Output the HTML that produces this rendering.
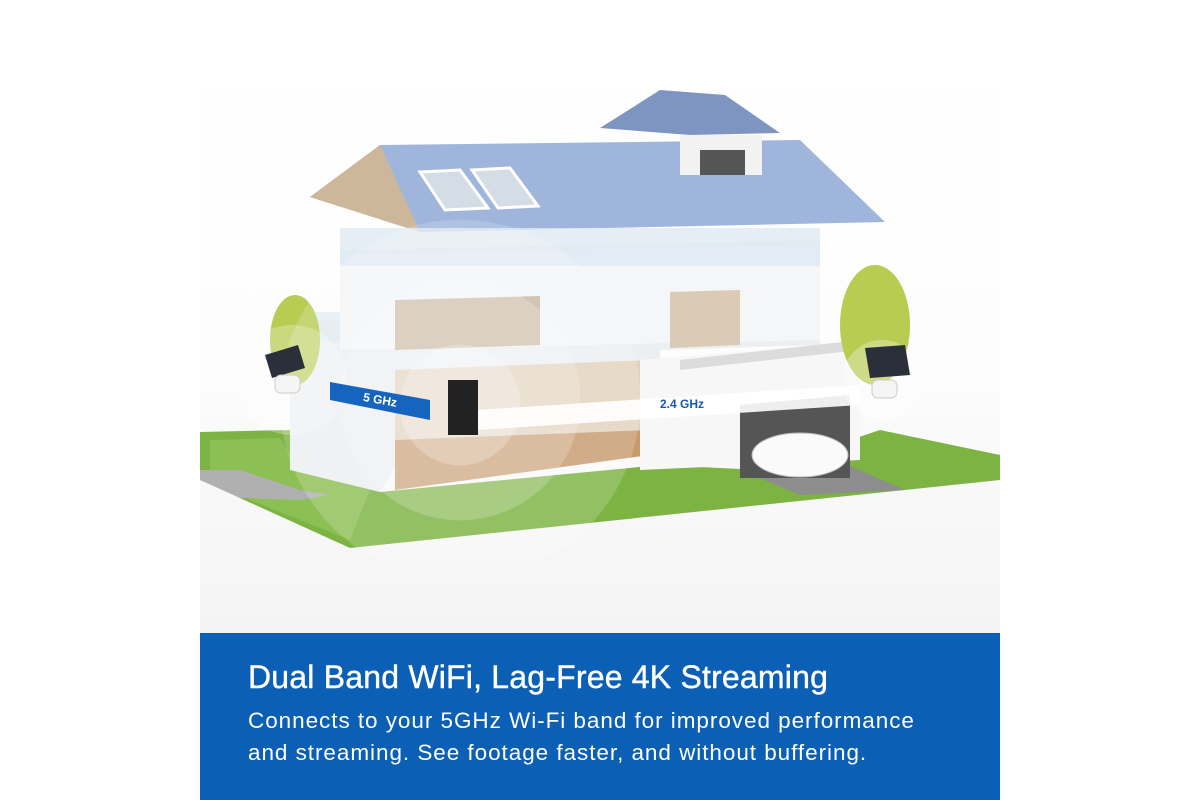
<!DOCTYPE html>
<html><head><style>
body{margin:0;width:1200px;height:800px;background:#fff;position:relative;overflow:hidden;font-family:"Liberation Sans",sans-serif}
.panel{position:absolute;left:200px;top:50px;width:800px;height:583px;background:linear-gradient(#fff 0%,#fdfdfd 50%,#f4f4f4 100%)}
.band{position:absolute;left:200px;top:633px;width:800px;height:167px;background:#0b5fb5;color:#fff}
.t{position:absolute;left:48px;top:26px;font-size:32px;font-weight:normal;letter-spacing:0.2px;-webkit-text-stroke:0.4px #fff}
.b{position:absolute;left:48px;top:72px;font-size:22.5px;letter-spacing:0.95px;line-height:32px}
svg{position:absolute;left:0;top:0}
</style></head><body>
<div class="panel"></div>
<svg width="1200" height="640">
<polygon points="200,432 290,430 300,470 380,492 660,465 760,470 880,430 1000,455 1000,480 350,548 240,498 200,478" fill="#7cb342"/>
<polygon points="210,440 280,438 300,470 370,490 350,540 250,500 210,470" fill="#9ccc65" opacity=".5"/>
<polygon points="200,470 240,470 300,490 330,495 300,500 240,498 200,480" fill="#b0b0b0"/>
<polygon points="740,470 850,466 905,490 800,495" fill="#8d8d8d"/>
<polygon points="290,320 340,320 340,250 820,240 820,345 660,350 660,440 400,460 380,492 290,470" fill="#eceff1"/>
<polygon points="340,255 820,245 820,340 340,350" fill="#f5f6f8"/>
<polygon points="395,300 540,296 540,345 395,350" fill="#c9b8a3"/>
<polygon points="670,292 740,290 740,345 670,348" fill="#d9cbb5"/>
<polygon points="395,370 650,360 650,455 395,480" fill="#e2d2bd"/>
<polygon points="395,440 650,430 650,455 395,490" fill="#c79a6e"/>
<polygon points="640,360 860,342 860,460 640,470" fill="#f7f7f7"/>
<polygon points="680,360 860,340 860,350 680,370" fill="#dcdcdc"/>
<polygon points="740,405 850,395 850,478 740,478" fill="#555"/>
<ellipse cx="800" cy="455" rx="48" ry="22" fill="#fafafa" stroke="#bbb"/>
<polygon points="310,197 380,145 800,140 885,222 420,232" fill="#9fb5dc"/>
<polygon points="310,197 380,145 420,232" fill="#cdb79b"/>
<polygon points="420,172 460,170 488,208 445,210" fill="#d4dde6" stroke="#fff" stroke-width="3"/>
<polygon points="472,170 510,168 538,206 498,208" fill="#d4dde6" stroke="#fff" stroke-width="3"/>
<polygon points="600,128 660,90 725,95 780,133 690,135" fill="#7e95c2"/>
<rect x="680" y="135" width="82" height="40" fill="#f2f2f2"/>
<rect x="700" y="150" width="45" height="25" fill="#555"/>
<rect x="340" y="228" width="480" height="38" fill="#dfeaf3" opacity=".8"/>
<rect x="275" y="312" width="65" height="30" fill="#dfeaf3" opacity=".8"/>
<ellipse cx="295" cy="340" rx="25" ry="45" fill="#b8cc52"/>
<ellipse cx="875" cy="325" rx="35" ry="60" fill="#b8cc52"/>
<circle cx="460" cy="400" r="180" fill="#ffffff" opacity=".18" stroke="#fff" stroke-opacity=".5"/>
<circle cx="460" cy="400" r="120" fill="#ffffff" opacity=".2" stroke="#fff" stroke-opacity=".6"/>
<circle cx="460" cy="405" r="60" fill="#ffffff" opacity=".25" stroke="#fff" stroke-opacity=".7"/>
<circle cx="292" cy="380" r="55" fill="#fff" opacity=".25"/>
<circle cx="882" cy="380" r="40" fill="#fff" opacity=".3"/>
<rect x="448" y="380" width="30" height="55" fill="#222"/>
<polygon points="265,355 298,345 305,368 272,378" fill="#2a2f3a"/>
<rect x="275" y="375" width="25" height="18" rx="6" fill="#f5f5f5" stroke="#ccc"/>
<polygon points="865,348 905,345 910,375 870,378" fill="#2a2f3a"/>
<rect x="872" y="380" width="25" height="18" rx="6" fill="#f5f5f5" stroke="#ccc"/>
<polygon points="330,382 430,400 430,420 330,400" fill="#1565c0"/>
<polygon points="478,410 860,385 860,405 478,430" fill="#fff" opacity=".9"/>
<text x="363" y="403" font-size="12" font-weight="bold" fill="#fff" transform="rotate(10 375 400)">5 GHz</text>
<text x="660" y="408" font-size="12" font-weight="bold" fill="#1559b0">2.4 GHz</text>
</svg>
<div class="band">
<div class="t">Dual Band WiFi, Lag-Free 4K Streaming</div>
<div class="b">Connects to your 5GHz Wi-Fi band for improved performance<br>and streaming. See footage faster, and without buffering.</div>
</div>
</body></html>
